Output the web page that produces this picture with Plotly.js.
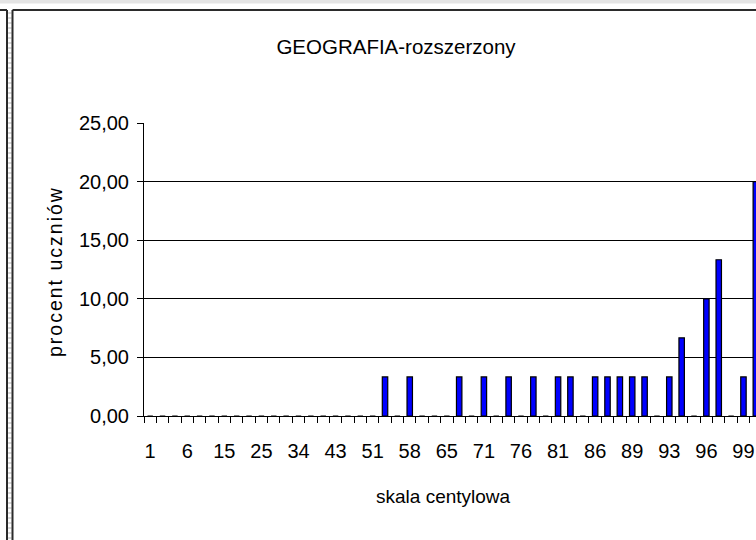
<!DOCTYPE html>
<html>
<head>
<meta charset="utf-8">
<script src="https://cdn.plot.ly/plotly-3.0.1.min.js"></script>
<style>
html,body{margin:0;padding:0;overflow:hidden;background:#fff;width:756px;height:540px;}
#chart{width:800px;height:580px;}
g.annotation[data-index="1"] text{letter-spacing:2px;}
</style>
</head>
<body>
<div id="chart"></div>
<script>
// percentile scale categories (only every third label is shown on the axis)
const categories = ["1","2","4","6","9","12","15","18","22","25","28","31","34","37","40","43","46","48","51","53","56","58","60","63","65","67","69","71","73","74","76","78","79","81","83","84","86","87","88","89","90","92","93","94","95","96","97","98","99","100"];
// percent of students per category
const percentValues = [0,0,0,0,0,0,0,0,0,0,0,0,0,0,0,0,0,0,0,3.33,0,3.33,0,0,0,3.33,0,3.33,0,3.33,0,3.33,0,3.33,3.33,0,3.33,3.33,3.33,3.33,3.33,0,3.33,6.67,0,10,13.33,0,3.33,20];
const yTickValues = [0,5,10,15,20,25];
const gridValues = [5,10,15,20];
const chartTitle = "GEOGRAFIA-rozszerzony";
const xTitle = "skala centylowa";
const yTitle = "procent uczniów";

const W = 800, H = 580;
const L = 144, T = 123, PW = 618, PH = 293;
const px = x => (x - L) / PW;
const py = y => (T + PH - y) / PH;

const tickText = categories.map((c, i) => (i % 3 === 0 ? c : ""));

const shapes = [];
const frameColor = "#2b2b2b";
// top light band
shapes.push({type:"rect", xref:"paper", yref:"paper", x0:px(-5), x1:px(W+5), y0:py(0), y1:py(3.5), fillcolor:"#e4e4e4", line:{width:0}, layer:"below"});
// chart frame
shapes.push({type:"line", xref:"paper", yref:"paper", x0:px(12.5), x1:px(W+5), y0:py(10), y1:py(10), line:{color:frameColor, width:2}});
shapes.push({type:"line", xref:"paper", yref:"paper", x0:px(12.5), x1:px(12.5), y0:py(10), y1:py(H+5), line:{color:frameColor, width:2}});
// neighbouring frame at the left
shapes.push({type:"line", xref:"paper", yref:"paper", x0:px(-5), x1:px(7), y0:py(10), y1:py(10), line:{color:frameColor, width:2}});
shapes.push({type:"line", xref:"paper", yref:"paper", x0:px(7), x1:px(7), y0:py(10), y1:py(H+5), line:{color:frameColor, width:2}});
// striped strip between the frames
for (let y = 12; y < H; y += 5) {
  shapes.push({type:"rect", xref:"paper", yref:"paper", x0:px(8.2), x1:px(11.5), y0:py(y), y1:py(y+2), fillcolor:"#d8d8d8", line:{width:0}, layer:"below"});
}

const data = [{
  type: "bar",
  x: categories,
  y: percentValues,
  width: 0.44,
  marker: {color: "#0000FF", line: {color: "#000000", width: 1.2}},
  hoverinfo: "x+y"
}];

const layout = {
  width: W, height: H,
  margin: {l: L, r: W - L - PW, t: T, b: H - T - PH, pad: 0},
  paper_bgcolor: "#ffffff",
  plot_bgcolor: "#ffffff",
  separators: ", ",
  showlegend: false,
  font: {family: "Liberation Sans, Arial, sans-serif", size: 20, color: "#000"},
  title: {
    text: chartTitle,
    font: {family: "Liberation Sans, Arial, sans-serif", size: 20.5, color: "#000"},
    xref: "container", yref: "container",
    x: 396 / W, xanchor: "center",
    y: 1 - 47 / H, yanchor: "middle"
  },
  xaxis: {
    type: "category",
    categoryorder: "array",
    categoryarray: categories,
    range: [-0.5, categories.length - 0.5],
    tickmode: "array",
    tickvals: categories,
    ticktext: tickText,
    tickson: "boundaries",
    ticks: "outside",
    ticklen: 6,
    tickwidth: 1,
    tickcolor: "#000",
    showline: true,
    linecolor: "#000",
    linewidth: 1,
    showgrid: false,
    zeroline: false,
    tickangle: 0,
    tickfont: {size: 20},
    ticklabelstandoff: 17,
    fixedrange: true
  },
  yaxis: {
    range: [0, 25],
    tickmode: "array",
    tickvals: yTickValues,
    tickformat: ".2f",
    ticks: "outside",
    ticklen: 6,
    tickwidth: 1,
    tickcolor: "#000",
    showline: true,
    linecolor: "#000",
    linewidth: 1,
    showgrid: false,
    zeroline: false,
    tickfont: {size: 20},
    ticklabelstandoff: 4,
    minor: {tickmode: "array", tickvals: gridValues, showgrid: true, gridcolor: "#000", gridwidth: 1, ticks: ""},
    fixedrange: true
  },
  annotations: [
    {text: xTitle, xref: "paper", yref: "paper", x: px(443), y: py(496), xanchor: "center", yanchor: "middle", showarrow: false, font: {size: 19}},
    {text: yTitle, xref: "paper", yref: "paper", x: px(55), y: py(271), xanchor: "center", yanchor: "middle", textangle: -90, showarrow: false, font: {size: 19.5}}
  ],
  shapes: shapes
};

Plotly.newPlot("chart", data, layout, {displayModeBar: false, staticPlot: true});
</script>
</body>
</html>
